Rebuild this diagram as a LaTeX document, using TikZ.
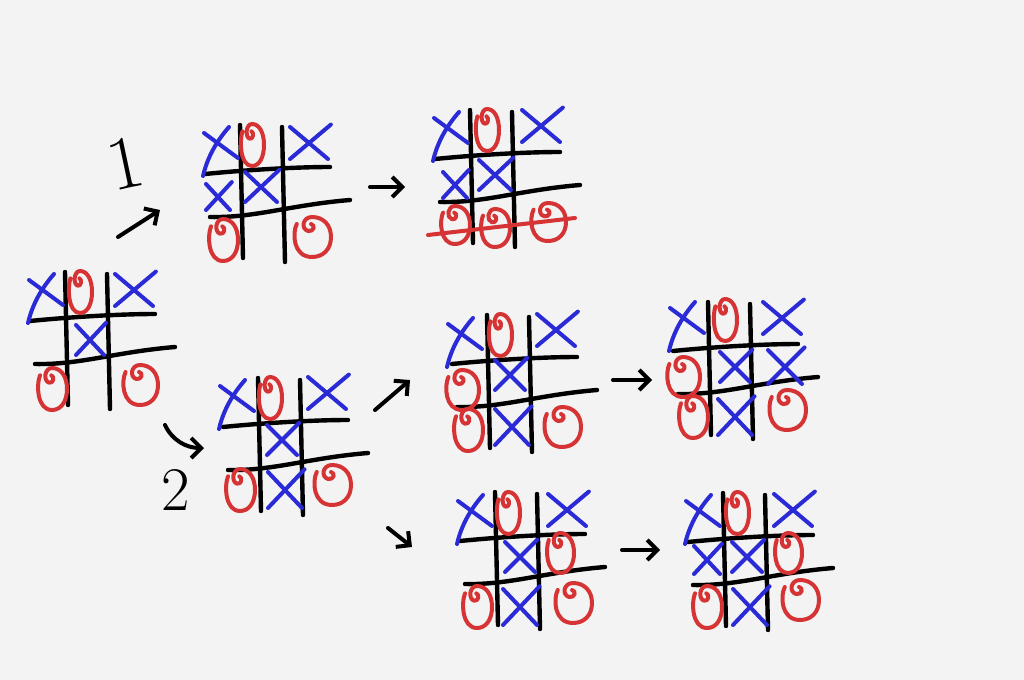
\documentclass[tikz,border=0pt]{standalone}
\usetikzlibrary{arrows.meta}
\definecolor{xblue}{RGB}{42,42,214}
\definecolor{ored}{RGB}{214,52,52}
\definecolor{paper}{RGB}{243,243,243}
\tikzset{
  gridline/.style={line width=2.2pt, line cap=round, black},
  xstroke/.style={line width=2pt, line cap=round, xblue},
  ostroke/.style={line width=2pt, line cap=round, line join=round, ored},
  movearrow/.style={line width=2pt, line cap=round, black, -{Straight Barb[length=5pt,width=10pt]}},
  handnum/.style={inner sep=0pt, black},
}
% X mark: centre, half width, half height
\newcommand\XM[4]{\begin{scope}[shift={(#1,#2)},xscale=#3,yscale=#4]
  \draw[xstroke] (-1,-1) -- (1,1);
  \draw[xstroke] (-1,1) -- (1.15,-1.15);
\end{scope}}
% top-left X with a long curved left stroke (centre given)
\newcommand\XL[2]{\begin{scope}[shift={(#1,#2)}]
  \draw[xstroke] (-17,-16) -- (17,9);
  \draw[xstroke] (-18,27) .. controls (-14,10) and (-6,-6) .. (8,-22);
\end{scope}}
% O mark with inner curl
\newcommand\OM[4]{\begin{scope}[shift={(#1,#2)},xscale=#3,yscale=#4]
  \draw[ostroke] (-0.8,-0.65) .. controls (-1.05,-0.2) and (-1.0,1) .. (0,1)
     .. controls (0.6,1) and (1,0.6) .. (1,0)
     .. controls (1,-0.6) and (0.6,-1) .. (0,-1)
     .. controls (-0.5,-1) and (-0.6,-0.4) .. (-0.2,-0.3)
     .. controls (0.1,-0.25) and (0.2,-0.6) .. (-0.05,-0.65);
\end{scope}}
% board: name, origin x, origin y, contents
\newcommand\board[4]{\begin{scope}[shift={(#2,#3)}]
  \coordinate (#1) at (72,68);
  \draw[gridline] (35,0) -- (38,133);
  \draw[gridline] (77,2) -- (80,137);
  \draw[gridline] (0,49) .. controls (40,45) and (90,42) .. (125,42);
  \draw[gridline] (5,92) .. controls (50,93) and (85,80) .. (145,75);
  #4
\end{scope}}
\begin{document}
\begin{tikzpicture}[x=0.5pt,y=-0.5pt]
\fill[paper] (0,0) rectangle (1024,680);
\useasboundingbox (0,0) rectangle (1024,680);

% root
\board{b0}{30}{272}{
  \XL{16}{24} \OM{50}{20}{12}{21} \XM{104}{18}{19}{16}
  \XM{60}{68}{14}{15}
  \OM{22}{117}{15}{21} \OM{110}{113}{18}{20}
}
% branch 1
\board{b1}{205}{125}{
  \XL{16}{24} \OM{47}{20}{12}{21} \XM{104}{18}{19}{16}
  \XM{13}{72}{12}{13} \XM{56}{62}{16}{15}
  \OM{18}{115}{15}{21} \OM{107}{112}{19}{20}
}
\board{b1w}{435}{110}{
  \XL{16}{24} \OM{52}{20}{12}{21} \XM{106}{16}{19}{16}
  \XM{20}{75}{12}{13} \XM{60}{65}{16}{15}
  \OM{20}{115}{15}{19} \OM{60}{118}{15}{19} \OM{113}{112}{18}{19}
  \draw[ostroke] (-7,125) -- (140,108);
}
% branch 2
\board{b2}{223}{378}{
  \XL{14}{24} \OM{47}{20}{12}{21} \XM{104}{15}{19}{16}
  \XM{59}{62}{15}{15}
  \OM{17}{112}{15}{21} \XM{62}{112}{17}{18} \OM{109}{107}{19}{20}
}
\board{b2a}{452}{315}{
  \XL{13}{25} \OM{48}{20}{12}{21} \XM{104}{15}{19}{16}
  \OM{10}{75}{17}{20} \XM{58}{60}{15}{15}
  \OM{16}{115}{15}{21} \XM{60}{112}{17}{18} \OM{110}{112}{19}{20}
}
\board{b2aw}{673}{302}{
  \XL{14}{22} \OM{52}{18}{12}{21} \XM{109}{16}{19}{16}
  \OM{10}{75}{17}{20} \XM{62}{65}{15}{15} \XM{112}{65}{17}{17}
  \OM{20}{115}{15}{21} \XM{62}{115}{17}{18} \OM{114}{108}{19}{20}
}
\board{b2b}{460}{492}{
  \XL{15}{25} \OM{48}{21}{12}{21} \XM{107}{18}{19}{16}
  \XM{60}{65}{15}{15} \OM{100}{61}{14}{20}
  \OM{17}{115}{15}{21} \XM{60}{115}{17}{18} \OM{113}{111}{19}{20}
}
\board{b2bw}{688}{493}{
  \XL{15}{24} \OM{49}{20}{12}{21} \XM{105}{17}{19}{16}
  \XM{19}{67}{13}{14} \XM{59}{64}{15}{15} \OM{100}{60}{14}{20}
  \OM{19}{114}{15}{21} \XM{62}{114}{17}{18} \OM{112}{107}{19}{20}
}

% labels
\node[handnum, rotate=12, font=\fontsize{38}{38}\selectfont] (l1) at (125,163) {1};
\node[handnum, font=\fontsize{31}{31}\selectfont] (l2) at (176,490) {2};

% arrow end points
\coordinate (a1s) at (118,237); \coordinate (a1e) at (160,210);
\coordinate (a2s) at (165,425); \coordinate (a2e) at (204,448);
\coordinate (a3s) at (370,187); \coordinate (a3e) at (405,187);
\coordinate (a4s) at (375,410); \coordinate (a4e) at (410,380);
\coordinate (a5s) at (388,528); \coordinate (a5e) at (412,547);
\coordinate (a6s) at (613,380); \coordinate (a6e) at (652,380);
\coordinate (a7s) at (622,550); \coordinate (a7e) at (660,550);

\draw[movearrow] (a1s) -- (a1e);
\draw[movearrow] (a2s) .. controls (172,440) and (186,448) .. (a2e);
\draw[movearrow] (a3s) -- (a3e);
\draw[movearrow] (a4s) -- (a4e);
\draw[movearrow] (a5s) -- (a5e);
\draw[movearrow] (a6s) -- (a6e);
\draw[movearrow] (a7s) -- (a7e);
\end{tikzpicture}
\end{document}
